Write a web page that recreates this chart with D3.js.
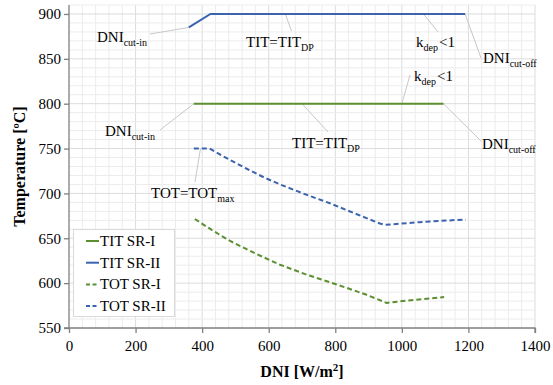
<!DOCTYPE html>
<meta charset="utf-8">
<style>
body { margin: 0; background: #fff; }
text { font-family: "Liberation Serif", serif; fill: #000; }
.tick text { font-size: 15px; }
.axis-title { font-size: 16px; font-weight: bold; }
.ann { font-size: 15px; }
.leg text { font-size: 15px; }
</style>
<svg width="553" height="385"></svg>
<script src="https://d3js.org/d3.v7.min.js"></script>
<script>
// data
var titSR1_x = [375, 1125];
var titSR1_y = [800, 800];
var titSR2_x = [360, 425, 1190];
var titSR2_y = [885, 900, 900];
var totSR1_x = [378, 430, 484, 560, 634, 710, 784, 840, 894, 954, 1040, 1127];
var totSR1_y = [671.5, 659, 647, 633, 620.5, 610, 601, 594, 587, 578, 581.5, 584.5];
var totSR2_x = [375, 422, 480, 534, 585, 634, 710, 784, 860, 934, 950, 1054, 1192];
var totSR2_y = [750, 750, 738, 727.5, 718, 710, 699, 689, 677.5, 666.5, 665, 668, 671];
var xTicks = [0, 200, 400, 600, 800, 1000, 1200, 1400];
var yTicks = [550, 600, 650, 700, 750, 800, 850, 900];

var svg = d3.select("svg"),
    margin = {left: 69, right: 18, top: 5, bottom: 57},
    width = 553 - margin.left - margin.right,
    height = 385 - margin.top - margin.bottom;

var x = d3.scaleLinear().domain([0, 1400]).range([margin.left, margin.left + width]);
var y = d3.scaleLinear().domain([550, 910]).range([margin.top + height, margin.top]);

var green = "#5b8f32", blue = "#3b63ae";

// grid
var grid = svg.append("g");
grid.selectAll(".vmin").data(d3.range(40, 1401, 40)).enter().append("line")
    .attr("x1", function(d) { return x(d); }).attr("x2", function(d) { return x(d); })
    .attr("y1", y(550)).attr("y2", y(910))
    .attr("stroke", function(d) { return d % 200 === 0 ? "#dcdcdc" : "#ececec"; })
    .attr("stroke-width", 1);
grid.selectAll(".hmin").data(d3.range(560, 911, 10)).enter().append("line")
    .attr("x1", x(0)).attr("x2", x(1400))
    .attr("y1", function(d) { return y(d); }).attr("y2", function(d) { return y(d); })
    .attr("stroke", function(d) { return d % 50 === 0 ? "#dcdcdc" : "#ececec"; })
    .attr("stroke-width", 1);

// axes
var xAxis = svg.append("g")
    .attr("transform", "translate(0," + y(550) + ")")
    .call(d3.axisBottom(x).tickValues(xTicks).tickFormat(d3.format("d")).tickSize(5).tickPadding(7));
var yAxis = svg.append("g")
    .attr("transform", "translate(" + x(0) + ",0)")
    .call(d3.axisLeft(y).tickValues(yTicks).tickFormat(d3.format("d")).tickSize(5).tickPadding(3));
[xAxis, yAxis].forEach(function(a) {
  a.select(".domain").attr("stroke", "#808080").attr("stroke-width", 1.3);
  a.selectAll(".tick line").attr("stroke", "#808080").attr("stroke-width", 1.3);
  a.selectAll(".tick text").attr("fill", "#000").style("font-family", "Liberation Serif");
});
xAxis.select(".domain").attr("d", "M" + x(0) + ",0H" + x(1400) + "V5");
yAxis.select(".domain").attr("d", "M-5," + y(550) + "H0V" + y(910));

svg.append("text").attr("class", "axis-title")
    .attr("x", x(700)).attr("y", 377).attr("text-anchor", "middle")
    .html("DNI [W/m<tspan baseline-shift='super' font-size='11'>2</tspan>]");
svg.append("text").attr("class", "axis-title")
    .attr("transform", "translate(25," + y(730) + ") rotate(-90)")
    .attr("text-anchor", "middle")
    .text("Temperature [ºC]");

// leader lines and annotation labels
var leaders = [
  [titSR2_x[0], titSR2_y[0], 150, 34],
  [650, 900, 291.5, 31],
  [1065, 900, 438, 32],
  [titSR2_x[2], 900, 481, 58],
  [1000, 800, 410, 75],
  [titSR1_x[0], 800, 160, 130],
  [700, 800, 328, 132],
  [titSR1_x[1], 800, 481.5, 141.5],
  [totSR2_x[0] + 20, 750, 195, 182]
];
svg.selectAll(".lead").data(leaders).enter().append("line")
    .attr("x1", function(d) { return x(d[0]); }).attr("y1", function(d) { return y(d[1]); })
    .attr("x2", function(d) { return d[2]; }).attr("y2", function(d) { return d[3]; })
    .attr("stroke", "#c8c8c8").attr("stroke-width", 1);

var labels = [
  [97, 42, "DNI", "cut-in", ""],
  [246, 47, "TIT=TIT", "DP", ""],
  [416, 47, "k", "dep", "<1"],
  [483, 63, "DNI", "cut-off", ""],
  [414, 81, "k", "dep", "<1"],
  [105, 136, "DNI", "cut-in", ""],
  [292, 148, "TIT=TIT", "DP", ""],
  [482, 149, "DNI", "cut-off", ""],
  [151, 198, "TOT=TOT", "max", ""]
];
labels.forEach(function(l) {
  var t = svg.append("text").attr("class", "ann").attr("x", l[0]).attr("y", l[1]);
  t.append("tspan").text(l[2]);
  t.append("tspan").attr("dy", 4).attr("font-size", 10).text(l[3]);
  if (l[4]) t.append("tspan").attr("dy", -4).attr("dx", 1).text(l[4]);
});

// series
var line = d3.line().x(function(d) { return x(d[0]); }).y(function(d) { return y(d[1]); });
var series = [
  {name: "TIT SR-I", xs: titSR1_x, ys: titSR1_y, color: green, dash: null},
  {name: "TIT SR-II", xs: titSR2_x, ys: titSR2_y, color: blue, dash: null},
  {name: "TOT SR-I", xs: totSR1_x, ys: totSR1_y, color: green, dash: "5,3"},
  {name: "TOT SR-II", xs: totSR2_x, ys: totSR2_y, color: blue, dash: "5,3"}
];
series.forEach(function(s) {
  svg.append("path")
      .datum(d3.zip(s.xs, s.ys))
      .attr("d", line)
      .attr("fill", "none")
      .attr("stroke", s.color)
      .attr("stroke-width", 2)
      .attr("stroke-dasharray", s.dash);
});

// legend
var leg = svg.append("g").attr("class", "leg");
leg.append("rect").attr("x", 73.5).attr("y", 229.5).attr("width", 101).attr("height", 87)
    .attr("fill", "#fff").attr("stroke", "#d9d9d9");
var row = leg.selectAll(".row").data(series).enter().append("g")
    .attr("transform", function(d, i) { return "translate(0," + (241 + i * 21.7) + ")"; });
row.append("line").attr("x1", 86).attr("x2", 99).attr("y1", 0).attr("y2", 0)
    .attr("stroke", function(d) { return d.color; }).attr("stroke-width", 2)
    .attr("stroke-dasharray", function(d) { return d.dash ? "4,2.5" : null; });
row.append("text").attr("x", 100).attr("y", 5).text(function(d) { return d.name; });
</script>
